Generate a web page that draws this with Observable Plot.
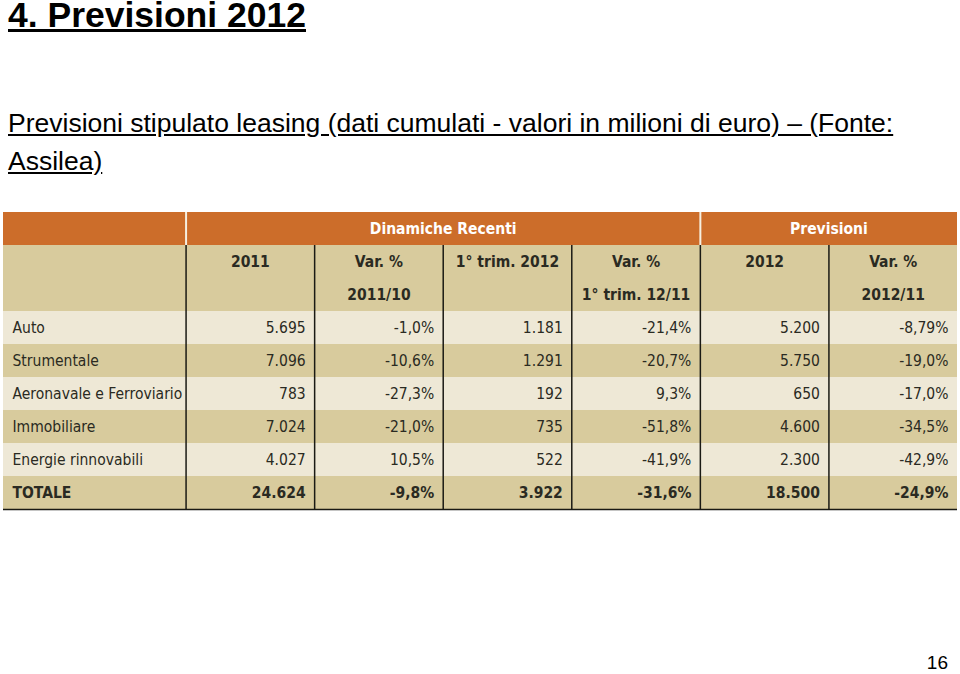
<!DOCTYPE html>
<html><head><meta charset="utf-8">
<script src="https://cdn.jsdelivr.net/npm/d3@7"></script>
<script src="https://cdn.jsdelivr.net/npm/@observablehq/plot@0.6"></script>
<style>
body{margin:0;background:#fff;width:960px;height:674px;position:relative;overflow:hidden;font-family:"Liberation Sans",Arial,sans-serif;color:#000}
#title{position:absolute;left:8px;top:1px;font-size:35.5px;line-height:28px;font-weight:bold;text-decoration:underline;white-space:nowrap}
#subtitle{position:absolute;left:8px;top:104px;font-size:26.5px;line-height:38px;text-decoration:underline;white-space:nowrap}
#chart{position:absolute;left:0;top:212px}
#page{position:absolute;right:12px;top:653px;font-size:19px;line-height:19px}
</style>
</head><body>
<div id="title">4. Previsioni 2012</div>
<div id="subtitle">Previsioni stipulato leasing (dati cumulati - valori in milioni di euro) – (Fonte:<br>Assilea)</div>
<div id="chart"></div>
<div id="page">16</div>
<script>
// ---- data ----
const categories = ["Auto","Strumentale","Aeronavale e Ferroviario","Immobiliare","Energie rinnovabili","TOTALE"];
const stipulato2011 = [5695,7096,783,7024,4027,24624];
const var2011 = [-1.0,-10.6,-27.3,-21.0,10.5,-9.8];
const trim2012 = [1181,1291,192,735,522,3922];
const varTrim2012 = [-21.4,-20.7,9.3,-51.8,-41.9,-31.6];
const prev2012 = [5200,5750,650,4600,2300,18500];
const var2012 = [-8.79,-19.0,-17.0,-34.5,-42.9,-24.9];
const groupHeaders = ["Dinamiche Recenti","Previsioni"];
const colHeaders1 = ["2011","Var. %","1° trim. 2012","Var. %","2012","Var. %"];
const colHeaders2 = ["","2011/10","","1° trim. 12/11","","2012/11"];

// ---- layout ----
const colWeights = [1.42,1,1,1,1,1,1];
const edges = [0]; colWeights.forEach(w => edges.push(edges[edges.length-1] + w));
const total = edges[edges.length-1];
const nRows = 3 + categories.length;
const ORANGE = "#cc6d2a", TAN = "#d8cb9d", LIGHT = "#eee8d6", INK = "#2a2a22";

const it = d3.formatLocale({decimal:",", thousands:".", grouping:[3], currency:["€",""], minus:"-"});
const fmtInt = it.format(",d");
const fmtPct = v => {
  const d = Math.max(1, (String(v).split(".")[1] || "").length);
  return it.format(`.${d}f`)(v) + "%";
};

const series = [stipulato2011, var2011, trim2012, varTrim2012, prev2012, var2012];
const isPct = [false,true,false,true,false,true];

// backgrounds
const bg = [];
bg.push({x1:0, x2:total, y1:0, y2:1, fill:ORANGE});
bg.push({x1:0, x2:total, y1:1, y2:3, fill:TAN});
categories.forEach((c,i) => bg.push({x1:0, x2:total, y1:3+i, y2:4+i, fill: i%2===0 ? LIGHT : TAN}));

// texts
const texts = [];
texts.push({x:(edges[1]+edges[5])/2, y:0.5, t:groupHeaders[0], anchor:"middle", bold:true, color:"#ffffff"});
texts.push({x:(edges[5]+edges[7])/2, y:0.5, t:groupHeaders[1], anchor:"middle", bold:true, color:"#ffffff"});
colHeaders1.forEach((h,j) => texts.push({x:(edges[j+1]+edges[j+2])/2, y:1.5, t:h, anchor:"middle", bold:true, color:INK}));
colHeaders2.forEach((h,j) => texts.push({x:(edges[j+1]+edges[j+2])/2, y:2.5, t:h, anchor:"middle", bold:true, color:INK}));
categories.forEach((c,i) => {
  const bold = c === "TOTALE";
  texts.push({x:edges[0], y:3.5+i, t:c, anchor:"start", bold, color:INK});
  series.forEach((s,j) => texts.push({x:edges[j+2], y:3.5+i, t: isPct[j] ? fmtPct(s[i]) : fmtInt(s[i]), anchor:"end", bold, color:INK}));
});

// grid lines
const blackRules = edges.slice(1,-1).map(e => ({x:e}));
const whiteRules = [{x:edges[1]},{x:edges[5]}];

const font = "'DejaVu Sans Condensed','Liberation Sans Narrow',sans-serif";
const textMark = (anchor, bold, dx) => Plot.text(texts.filter(d => d.anchor===anchor && d.bold===bold), {
  x:"x", y:"y", text:"t", fill:"color", textAnchor:anchor, dx, fontWeight: bold ? "bold" : "normal",
  fontSize: 15.5, fontFamily: font
});

const chart = Plot.plot({
  width: 960, height: 300,
  marginLeft: 3, marginRight: 3, marginTop: 0, marginBottom: 3,
  x: {domain:[0,total], axis:null},
  y: {domain:[0,nRows], reverse:true, axis:null},
  color: {type:"identity"},
  style: {fontFamily: font, background:"transparent"},
  marks: [
    Plot.rect(bg, {x1:"x1", x2:"x2", y1:"y1", y2:"y2", fill:"fill"}),
    Plot.ruleX(whiteRules, {x:"x", y1:0, y2:1, stroke:"#f6efe0", strokeWidth:2}),
    Plot.ruleX(blackRules, {x:"x", y1:1, y2:nRows, stroke:"#1a1a14", strokeWidth:1.5}),
    Plot.ruleY([nRows], {stroke:"#1a1a14", strokeWidth:1.5}),
    textMark("start", false, 9),
    textMark("start", true, 9),
    textMark("end", false, -9),
    textMark("end", true, -9),
    textMark("middle", true, 0)
  ]
});
document.getElementById("chart").appendChild(chart);
</script>
</body></html>
